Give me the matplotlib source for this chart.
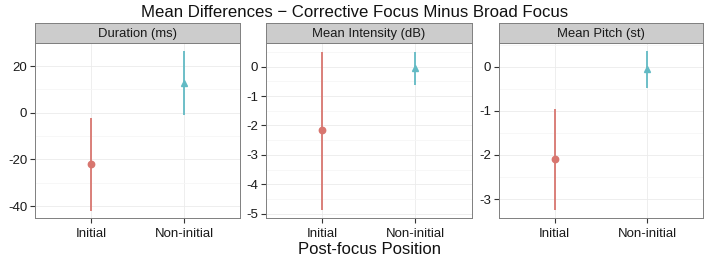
import matplotlib
matplotlib.use("Agg")
import matplotlib.pyplot as plt
from matplotlib.ticker import FixedLocator

plt.rcParams['font.family'] = ['Liberation Sans', 'DejaVu Sans']

positions = ["Initial", "Non-initial"]
panels = ["Duration (ms)", "Mean Intensity (dB)", "Mean Pitch (st)"]
means = [[-22.0, 12.9], [-2.16, -0.05], [-2.10, -0.05]]
lowers = [[-41.9, -1.0], [-4.88, -0.62], [-3.25, -0.47]]
uppers = [[-2.3, 26.4], [0.51, 0.51], [-0.95, 0.36]]
yticks = [[-40, -20, 0, 20], [-5, -4, -3, -2, -1, 0], [-3, -2, -1, 0]]
ylims = [(-45.1, 29.9), (-5.14, 0.80), (-3.43, 0.54)]
colors = ["#D8766F", "#62BAC4"]
markers = ["o", "^"]

W, H = 708, 261
fig = plt.figure(figsize=(W / 100, H / 100), dpi=100)

lefts = [35, 266, 499]
widths = [205, 205.5, 204]
top_px, bot_px, strip_px = 43, 218, 20

for i in range(3):
    ax = fig.add_axes([lefts[i] / W, (H - bot_px) / H, widths[i] / W, (bot_px - top_px) / H])
    ax.set_xlim(0.4, 2.6)
    ax.set_ylim(*ylims[i])
    yt = yticks[i]
    step = yt[1] - yt[0]
    minors = [v + step / 2 for v in [yt[0] - step] + yt]
    ax.yaxis.set_major_locator(FixedLocator(yt))
    ax.yaxis.set_minor_locator(FixedLocator(minors))
    ax.set_yticklabels([str(v) for v in yt])
    ax.xaxis.set_major_locator(FixedLocator([1, 2]))
    ax.set_xticklabels(positions)
    ax.grid(True, which='major', color='#EBEBEB', linewidth=0.6)
    ax.grid(True, which='minor', axis='y', color='#F6F6F6', linewidth=0.6)
    ax.set_axisbelow(True)
    for s in ax.spines.values():
        s.set_color('#7F7F7F')
        s.set_linewidth(0.7)
    ax.tick_params(which='major', length=3.5, width=0.8, color='#333333', labelsize=9.5,
                   labelcolor='#1a1a1a', pad=2)
    ax.tick_params(axis='x', which='major', pad=3.5)
    ax.tick_params(which='minor', length=0)
    for j in range(2):
        x = j + 1
        ax.plot([x, x], [lowers[i][j], uppers[i][j]], color=colors[j], lw=1.3, solid_capstyle='butt')
        ax.plot([x], [means[i][j]], marker=markers[j], color=colors[j], markersize=4.6, linestyle='none')
    # strip
    sax = fig.add_axes([lefts[i] / W, (H - top_px) / H, widths[i] / W, strip_px / H])
    sax.set_facecolor('#CCCCCC')
    sax.set_xticks([])
    sax.set_yticks([])
    for s in sax.spines.values():
        s.set_color('#7F7F7F')
        s.set_linewidth(0.7)
    sax.text(0.5, 0.47, panels[i], ha='center', va='center', fontsize=9.4, color='#1a1a1a',
             transform=sax.transAxes)

fig.text(355 / W, 1 - 12.5 / H, "Mean Differences \u2212 Corrective Focus Minus Broad Focus",
         ha='center', va='center', fontsize=12.1, color='#111111')
fig.text(369 / W, 1 - 249 / H, "Post-focus Position", ha='center', va='center',
         fontsize=12, color='#111111')

fig.savefig("out.png", dpi=100)
